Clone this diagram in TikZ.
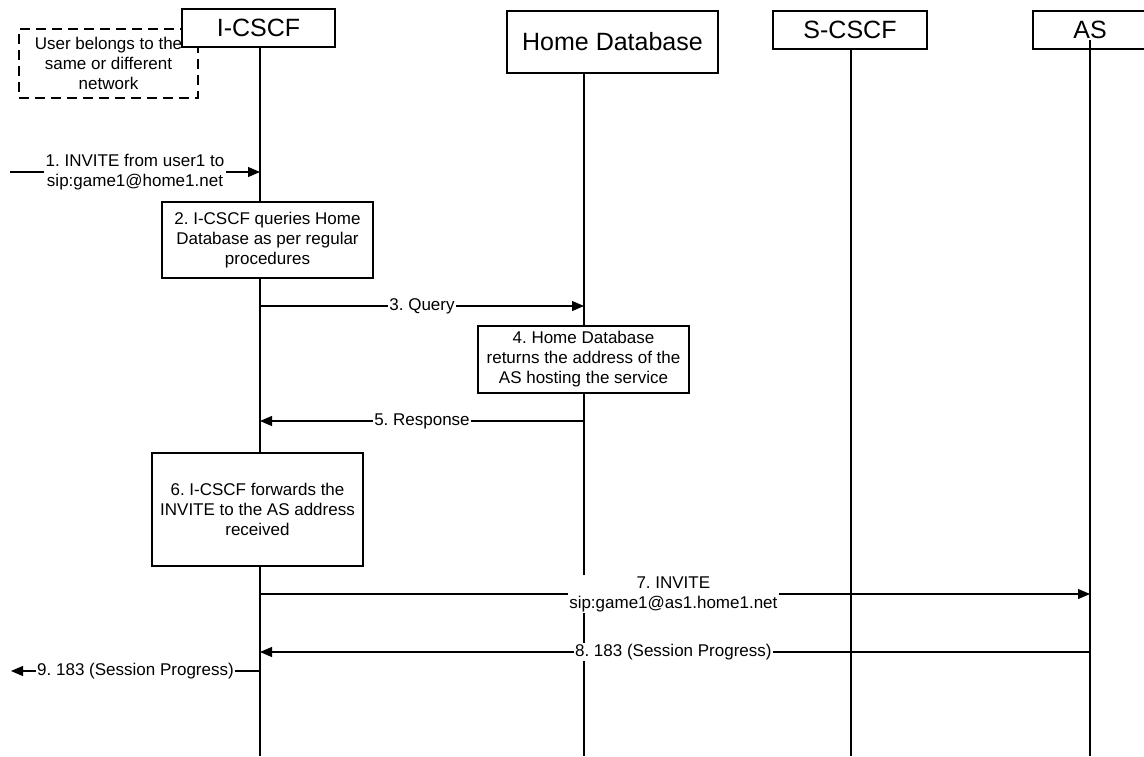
\documentclass[tikz,border=0pt]{standalone}
\usepackage{fontspec}
\setmainfont{Liberation Sans}
\usetikzlibrary{arrows.meta}
\frenchspacing
\begin{document}
\begin{tikzpicture}[x=1pt,y=-1pt,
  hdr/.style={draw,fill=white,line width=1.1pt,inner sep=0pt,font=\fontsize{25}{28}\selectfont},
  note/.style={draw,fill=white,line width=1.1pt,inner sep=0pt,align=center,font=\fontsize{17}{20}\selectfont},
  dnote/.style={draw,dash pattern=on 10pt off 6pt,line width=1.1pt,inner sep=0pt,align=center,font=\fontsize{17}{20}\selectfont},
  life/.style={line width=1.1pt},
  msg/.style={line width=1.1pt,-{Triangle[length=12pt,width=10pt]}},
  lbl/.style={fill=white,inner sep=1.5pt,align=center,font=\fontsize{17}{20}\selectfont}]
\useasboundingbox (0,0) rectangle (1144,756);
\fill[white] (0,0) rectangle (1144,756);

% dashed note (behind I-CSCF box)
\node[dnote,minimum width=179pt,minimum height=69pt] (n0) at (108.5,63.5) {User belongs to the\\same or different\\network};

% lifeline end coordinates
\coordinate (iTop) at (260,47);   \coordinate (iBot) at (260,756);
\coordinate (hTop) at (584,73);   \coordinate (hBot) at (584,756);
\coordinate (sTop) at (851,49);   \coordinate (sBot) at (851,756);
\coordinate (aTop) at (1090,40);  \coordinate (aBot) at (1090,756);

% header boxes
\node[hdr,minimum width=153pt,minimum height=38pt] (icscf) at (258.5,28) {I-CSCF};
\node[hdr,minimum width=211pt,minimum height=62pt] (hdb) at (612.5,42) {Home Database};
\node[hdr,minimum width=154pt,minimum height=38pt] (scscf) at (850,30) {S-CSCF};
\node[hdr,minimum width=114pt,minimum height=38pt] (as) at (1090,30) {AS};

% lifelines
\draw[life] (iTop) -- (iBot);
\draw[life] (hTop) -- (hBot);
\draw[life] (sTop) -- (sBot);
\draw[life] (aTop) -- (aBot);

% notes on lifelines
\node[note,minimum width=211pt,minimum height=76pt] (n2) at (267.5,240) {2. I-CSCF queries Home\\Database as per regular\\procedures};
\node[note,minimum width=211pt,minimum height=67pt] (n4) at (583.5,359.5) {4. Home Database\\returns the address of the\\AS hosting the service};
\node[note,minimum width=211pt,minimum height=113pt] (n6) at (257.5,509.5) {6. I-CSCF forwards the\\INVITE to the AS address\\received};

% message end points
\coordinate (m1a) at (10,172);   \coordinate (m1b) at (260,172);
\coordinate (m3a) at (260,306);  \coordinate (m3b) at (584,306);
\coordinate (m5a) at (584,421);  \coordinate (m5b) at (260,421);
\coordinate (m7a) at (260,594);  \coordinate (m7b) at (1090,594);
\coordinate (m8a) at (1090,652); \coordinate (m8b) at (260,652);
\coordinate (m9a) at (260,671);  \coordinate (m9b) at (11,671);

% messages
\draw[msg] (m1a) -- (m1b) node[midway,lbl] (l1) {1. INVITE from user1 to\\sip:game1@home1.net};
\draw[msg] (m3a) -- (m3b) node[midway,lbl] (l3) {3. Query};
\draw[msg] (m5a) -- (m5b) node[midway,lbl] (l5) {5. Response};
\draw[msg] (m7a) -- (m7b) node[pos=0.498,lbl] (l7) {7. INVITE\\sip:game1@as1.home1.net};
\draw[msg] (m8a) -- (m8b) node[pos=0.502,lbl] (l8) {8. 183 (Session Progress)};
\draw[msg] (m9a) -- (m9b) node[midway,lbl] (l9) {9. 183 (Session Progress)};
\end{tikzpicture}
\end{document}
